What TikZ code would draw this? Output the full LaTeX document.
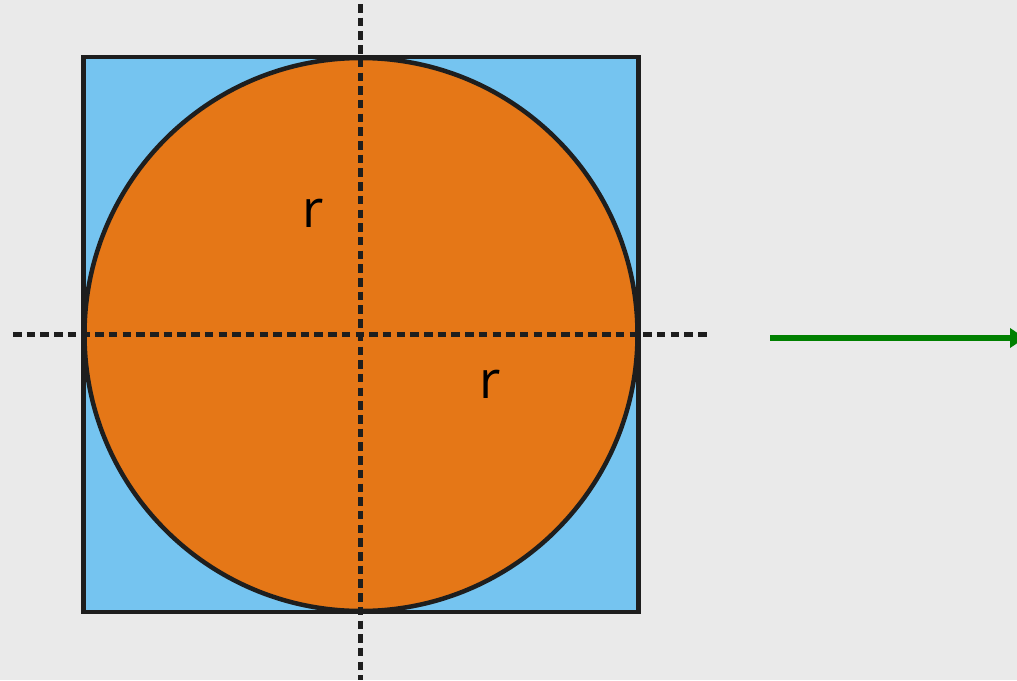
\documentclass[tikz,border=0pt]{standalone}
\usepackage{fontspec}
\setmainfont{Open Sans}
\usetikzlibrary{arrows.meta}
\definecolor{bgc}{HTML}{EAEAEA}
\definecolor{sqblue}{HTML}{75C4F0}
\definecolor{circorange}{HTML}{E57717}
\definecolor{outl}{HTML}{1E1E1E}
\definecolor{arrgreen}{HTML}{008000}
\begin{document}
\begin{tikzpicture}[x=1pt,y=-1pt,
  shapeline/.style={draw=outl,line width=4.5pt},
  axisline/.style={draw=outl,line width=4.5pt,dash pattern=on 8.5pt off 5.2pt},
  rlabel/.style={font=\fontsize{52}{58}\selectfont,text=black,inner sep=0pt}]
\useasboundingbox[fill=bgc] (0,0) rectangle (1017,680);
\coordinate (c) at (361,334.5);
\node[shapeline,fill=sqblue,minimum size=555pt,inner sep=0pt,outer sep=0pt] (sq) at (c) {};
\node[shapeline,fill=circorange,circle,minimum size=553pt,inner sep=0pt,outer sep=0pt] (circ) at (c) {};
\coordinate (hl) at (13,334.5);
\coordinate (hr) at (711,334.5);
\coordinate (vt) at (360.5,4);
\coordinate (vb) at (360.5,680);
\draw[axisline] (hl) -- (hr);
\draw[axisline] (vt) -- (vb);
\node[rlabel] (r1) at (313,213) {r};
\node[rlabel] (r2) at (490,384) {r};
\coordinate (as) at (770,338);
\coordinate (ae) at (1025,338);
\draw[arrgreen,line width=6pt,-{Triangle[length=15pt,width=19pt]}] (as) -- (ae);
\end{tikzpicture}
\end{document}
